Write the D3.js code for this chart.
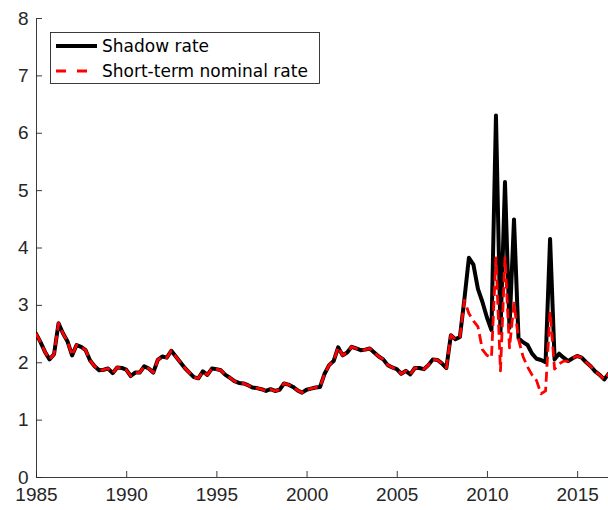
<!DOCTYPE html>
<html>
<head>
<meta charset="utf-8">
<script src="https://cdn.jsdelivr.net/npm/d3@7"></script>
<style>
  html, body { margin: 0; padding: 0; background: #fff; }
  svg { display: block; font-family: "DejaVu Sans", sans-serif; }
</style>
</head>
<body>
<svg id="chart" width="608" height="510"></svg>
<script>
// Quarterly observations, 1985Q1 .. 2016Q4
const startYear = 1985;
const quarters = d3.range(128).map(i => startYear + i / 4);

const shadowRate = [
  2.50, 2.35, 2.18, 2.05, 2.14, 2.68, 2.50, 2.36, 2.12, 2.30,
  2.27, 2.21, 2.03, 1.93, 1.86, 1.87, 1.89, 1.81, 1.91, 1.90,
  1.87, 1.76, 1.82, 1.82, 1.93, 1.89, 1.82, 2.04, 2.10, 2.08,
  2.20, 2.10, 2.00, 1.90, 1.82, 1.74, 1.72, 1.84, 1.78, 1.89,
  1.88, 1.86, 1.78, 1.73, 1.67, 1.64, 1.63, 1.60, 1.56, 1.55,
  1.53, 1.50, 1.53, 1.50, 1.52, 1.63, 1.61, 1.57, 1.51, 1.47,
  1.52, 1.54, 1.56, 1.57, 1.80, 1.95, 2.02, 2.26, 2.12, 2.17,
  2.27, 2.24, 2.21, 2.22, 2.24, 2.17, 2.10, 2.05, 1.95, 1.91,
  1.88, 1.80, 1.85, 1.79, 1.90, 1.90, 1.88, 1.95, 2.05, 2.04,
  1.98, 1.90, 2.47, 2.40, 2.44, 3.10, 3.82, 3.70, 3.28, 3.05,
  2.78, 2.56, 6.30, 2.52, 5.14, 2.60, 4.49, 2.42, 2.35, 2.30,
  2.15, 2.06, 2.04, 2.00, 4.15, 2.05, 2.15, 2.08, 2.02, 2.07,
  2.11, 2.08, 2.00, 1.93, 1.84, 1.78, 1.70, 1.80
];

const shortRate = [
  2.50, 2.35, 2.18, 2.05, 2.14, 2.68, 2.50, 2.36, 2.12, 2.30,
  2.27, 2.21, 2.03, 1.93, 1.86, 1.87, 1.89, 1.81, 1.91, 1.90,
  1.87, 1.76, 1.82, 1.82, 1.93, 1.89, 1.82, 2.04, 2.10, 2.08,
  2.20, 2.10, 2.00, 1.90, 1.82, 1.74, 1.72, 1.84, 1.78, 1.89,
  1.88, 1.86, 1.78, 1.73, 1.67, 1.64, 1.63, 1.60, 1.56, 1.55,
  1.53, 1.50, 1.53, 1.50, 1.52, 1.63, 1.61, 1.57, 1.51, 1.47,
  1.52, 1.54, 1.56, 1.57, 1.80, 1.95, 2.02, 2.26, 2.12, 2.17,
  2.27, 2.24, 2.21, 2.22, 2.24, 2.17, 2.10, 2.05, 1.95, 1.91,
  1.88, 1.80, 1.85, 1.79, 1.90, 1.90, 1.88, 1.95, 2.05, 2.04,
  1.98, 1.90, 2.47, 2.40, 2.44, 3.08, 2.85, 2.72, 2.62, 2.22,
  2.12, 2.08, 3.82, 1.85, 3.82, 2.25, 3.03, 2.40, 2.10, 1.92,
  1.78, 1.68, 1.45, 1.50, 2.88, 1.88, 1.97, 2.02, 2.02, 2.07,
  2.11, 2.08, 2.00, 1.93, 1.84, 1.78, 1.70, 1.80
];

const xTicks = [1985, 1990, 1995, 2000, 2005, 2010, 2015];
const yTicks = [0, 1, 2, 3, 4, 5, 6, 7, 8];
const seriesNames = ["Shadow rate", "Short-term nominal rate"];

const svg = d3.select("#chart");
const plot = { left: 36, right: 608.7, top: 18, bottom: 477 };

const x = d3.scaleLinear().domain([1985, 2016.75]).range([plot.left, plot.right]);
const y = d3.scaleLinear().domain([0, 8]).range([plot.bottom, plot.top]);

const axisColor = "#262626";

// Axes with inward ticks
const gx = svg.append("g")
  .attr("transform", `translate(0,${plot.bottom})`)
  .call(d3.axisBottom(x).tickValues(xTicks).tickFormat(d3.format("d"))
    .tickSizeInner(-6).tickSizeOuter(0).tickPadding(10.5));
const gy = svg.append("g")
  .attr("transform", `translate(${plot.left},0)`)
  .call(d3.axisLeft(y).tickValues(yTicks).tickFormat(d3.format("d"))
    .tickSizeInner(-6).tickSizeOuter(0).tickPadding(7.5));

[gx, gy].forEach(g => {
  g.select(".domain").attr("stroke", axisColor).attr("stroke-width", 0.9);
  g.selectAll(".tick line").attr("stroke", axisColor).attr("stroke-width", 0.9);
  g.selectAll(".tick text").attr("fill", axisColor).style("font-size", "19px");
});

// Clip the series to the plotting area
svg.append("clipPath").attr("id", "plotClip")
  .append("rect")
  .attr("x", plot.left).attr("y", plot.top)
  .attr("width", 608 - plot.left).attr("height", plot.bottom - plot.top);

const lineOf = values => d3.line()
  .x((d, i) => x(quarters[i]))
  .y(d => y(d))(values);

const series = svg.append("g").attr("clip-path", "url(#plotClip)");

series.append("path")
  .attr("d", lineOf(shadowRate))
  .attr("fill", "none")
  .attr("stroke", "#000")
  .attr("stroke-width", 4)
  .attr("stroke-linejoin", "round")
  .attr("stroke-linecap", "round");

series.append("path")
  .attr("d", lineOf(shortRate))
  .attr("fill", "none")
  .attr("stroke", "#ff0000")
  .attr("stroke-width", 2.8)
  .attr("stroke-dasharray", "10,5")
  .attr("stroke-linejoin", "round");

// Legend
const legend = svg.append("g");
legend.append("rect")
  .attr("x", 50.5).attr("y", 32.5).attr("width", 269).attr("height", 51)
  .attr("fill", "#fff").attr("stroke", axisColor).attr("stroke-width", 0.9);

const legendRows = [
  { name: seriesNames[0], y: 46, color: "#000", width: 4, dash: null },
  { name: seriesNames[1], y: 71, color: "#ff0000", width: 2.8, dash: "10,11" }
];
legendRows.forEach(r => {
  legend.append("line")
    .attr("x1", 56).attr("x2", 97).attr("y1", r.y).attr("y2", r.y)
    .attr("stroke", r.color).attr("stroke-width", r.width)
    .attr("stroke-dasharray", r.dash);
  legend.append("text")
    .attr("x", 102).attr("y", r.y + 6)
    .attr("fill", "#000")
    .style("font-size", "17px")
    .text(r.name);
});
</script>
</body>
</html>
